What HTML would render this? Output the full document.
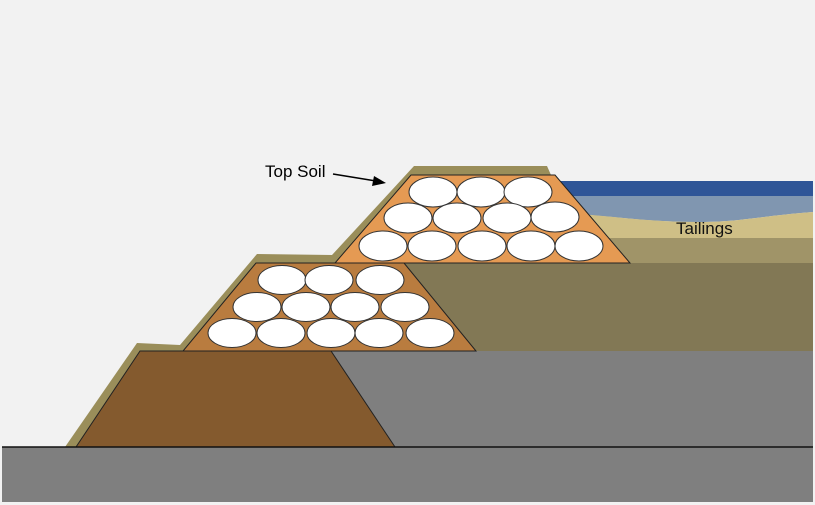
<!DOCTYPE html>
<html><head><style>html,body{margin:0;padding:0;background:#f2f2f2;}svg{display:block}</style></head>
<body>
<svg width="815" height="505" viewBox="0 0 815 505" xmlns="http://www.w3.org/2000/svg">
<rect x="0" y="0" width="815" height="505" fill="#f2f2f2"/>
<rect x="540" y="181" width="273" height="15" fill="#2f5597"/>
<path d="M550 196 L813 196 L813 212 C760 216 740 222 700 222 C650 222 620 217 587 215 L560 210 Z" fill="#8096b0"/>
<path d="M580 214 C620 217 650 222 700 222 C740 222 760 216 813 212 L813 238 L590 238 Z" fill="#cfbf86"/>
<rect x="590" y="238" width="223" height="25" fill="#a09468"/>
<rect x="400" y="263" width="413" height="88" fill="#827855"/>
<rect x="330" y="351" width="483" height="96" fill="#7f7f7f"/>
<path d="M65 447 L137 343 L180 345 L257 254 L332 255 L414 166 L547 166 L551 175 L411 175 L335 263 L256 263 L183 351 L140 351 L76 447 Z" fill="#9a8e5a"/>
<polygon points="140,351 331,351 395,447 76,447" fill="#845a2e" stroke="#222" stroke-width="1"/>
<polygon points="256,263 404,263 476,351 183,351" fill="#b97c3f" stroke="#222" stroke-width="1"/>
<polygon points="411,175 555,175 630,263 335,263" fill="#e59a53" stroke="#222" stroke-width="1"/>
<g fill="#fff" stroke="#333" stroke-width="1">
<ellipse cx="433" cy="192" rx="24" ry="15"/><ellipse cx="481" cy="192" rx="24" ry="15"/><ellipse cx="528" cy="192" rx="24" ry="15"/>
<ellipse cx="408" cy="218" rx="24" ry="15"/><ellipse cx="457" cy="218" rx="24" ry="15"/><ellipse cx="507" cy="218" rx="24" ry="15"/><ellipse cx="555" cy="217" rx="24" ry="15"/>
<ellipse cx="383" cy="246" rx="24" ry="15"/><ellipse cx="432" cy="246" rx="24" ry="15"/><ellipse cx="482" cy="246" rx="24" ry="15"/><ellipse cx="531" cy="246" rx="24" ry="15"/><ellipse cx="579" cy="246" rx="24" ry="15"/>
<ellipse cx="282" cy="280" rx="24" ry="14.5"/><ellipse cx="329" cy="280" rx="24" ry="14.5"/><ellipse cx="380" cy="280" rx="24" ry="14.5"/>
<ellipse cx="257" cy="307" rx="24" ry="14.5"/><ellipse cx="306" cy="307" rx="24" ry="14.5"/><ellipse cx="355" cy="307" rx="24" ry="14.5"/><ellipse cx="405" cy="307" rx="24" ry="14.5"/>
<ellipse cx="232" cy="333" rx="24" ry="14.5"/><ellipse cx="281" cy="333" rx="24" ry="14.5"/><ellipse cx="331" cy="333" rx="24" ry="14.5"/><ellipse cx="379" cy="333" rx="24" ry="14.5"/><ellipse cx="430" cy="333" rx="24" ry="14.5"/>
</g>
<rect x="2" y="447" width="811" height="55" fill="#7f7f7f"/>
<line x1="2" y1="447" x2="813" y2="447" stroke="#111" stroke-width="1.5"/>
<text x="265" y="177" font-family="Liberation Sans, sans-serif" font-size="17" fill="#000">Top Soil</text>
<line x1="333" y1="174" x2="376" y2="181" stroke="#000" stroke-width="1.5"/>
<polygon points="386,183 374,176 372,186" fill="#000"/>
<text x="676" y="234" font-family="Liberation Sans, sans-serif" font-size="17" fill="#111">Tailings</text>
</svg>
</body></html>
